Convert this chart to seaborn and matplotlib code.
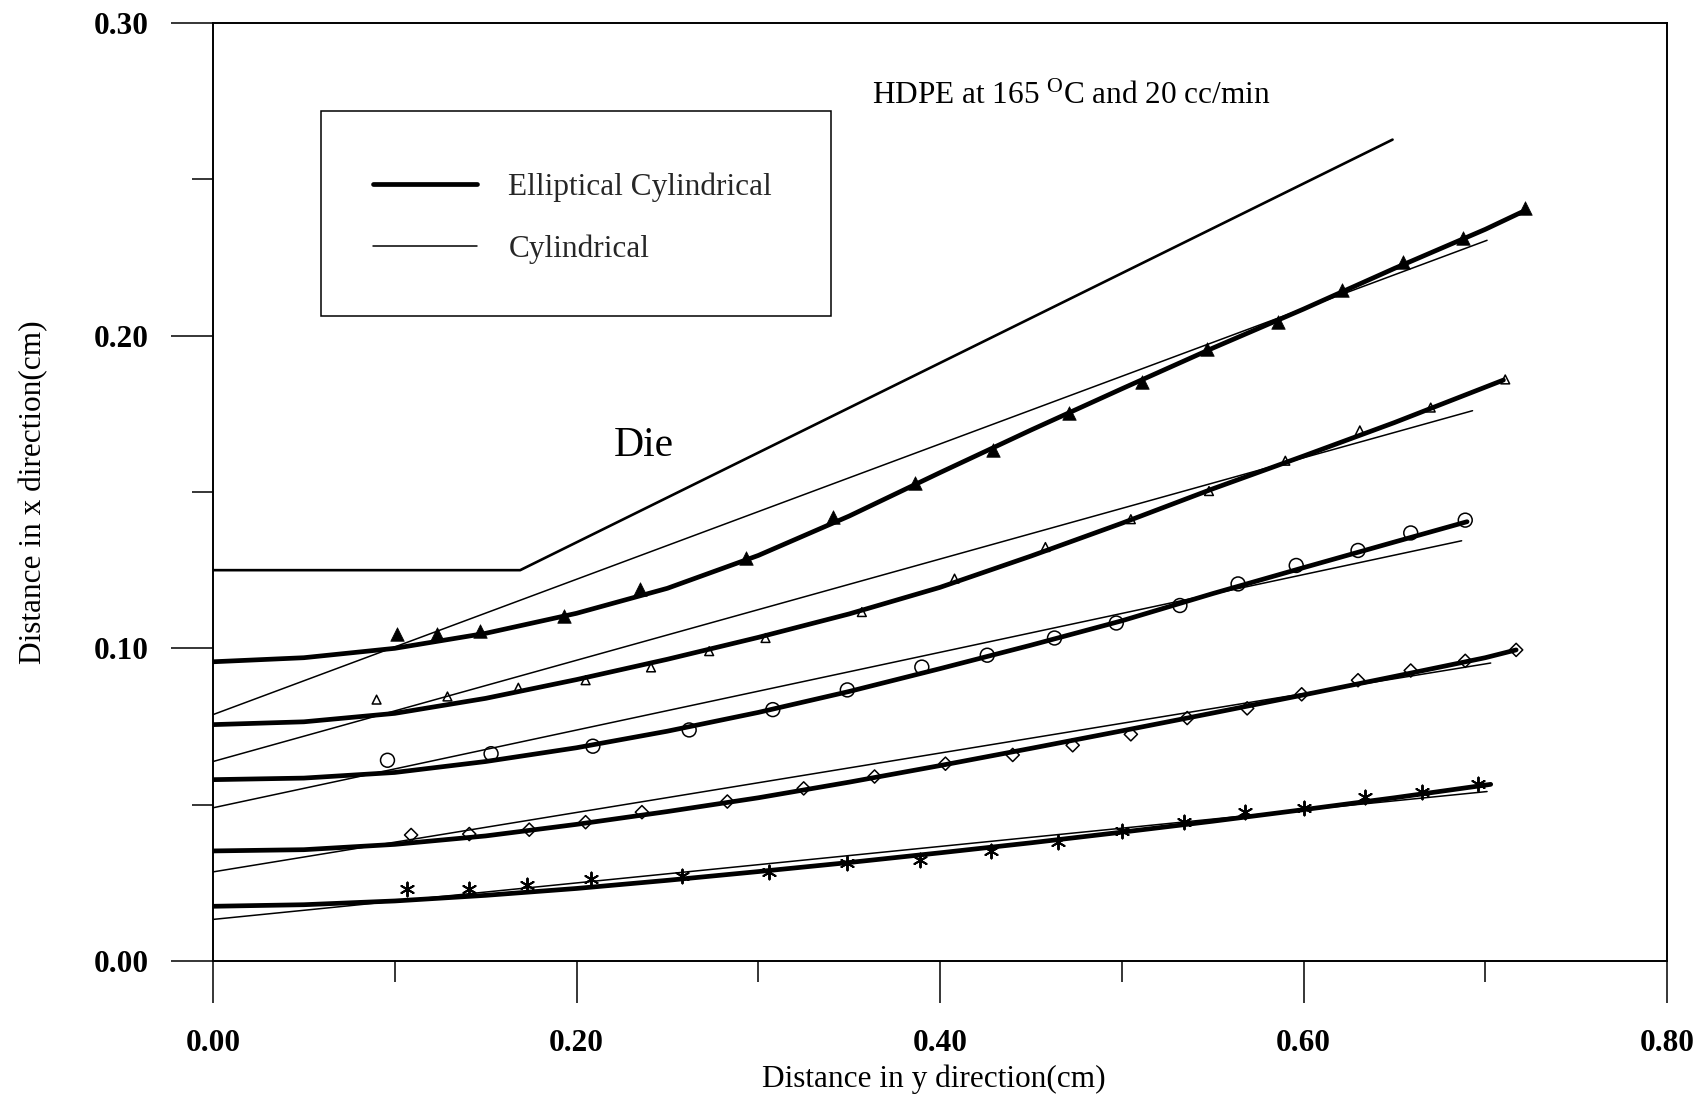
import matplotlib
matplotlib.use("Agg")
import matplotlib.pyplot as plt
from matplotlib.patches import Rectangle
from matplotlib.ticker import FormatStrFormatter
import seaborn as sns

# ---- measured swell profiles (distance in y, distance in x), cm ----
tri_filled_x = [0.101, 0.123, 0.147, 0.193, 0.235, 0.293, 0.341, 0.386, 0.429,
                0.471, 0.511, 0.547, 0.586, 0.621, 0.655, 0.688, 0.722]
tri_filled_y = [0.1047, 0.1047, 0.1057, 0.1102, 0.1189, 0.1289, 0.1420, 0.1528,
                0.1635, 0.1753, 0.1853, 0.1957, 0.2043, 0.2147, 0.2237, 0.2313, 0.2407]

tri_open_x = [0.090, 0.129, 0.168, 0.205, 0.241, 0.273, 0.304, 0.357, 0.408,
              0.458, 0.505, 0.548, 0.590, 0.631, 0.670, 0.711]
tri_open_y = [0.0836, 0.0846, 0.0874, 0.0898, 0.0939, 0.0991, 0.1033, 0.1116,
              0.1223, 0.1324, 0.1413, 0.1503, 0.1600, 0.1697, 0.1770, 0.1860]

circle_x = [0.096, 0.153, 0.209, 0.262, 0.308, 0.349, 0.390, 0.426, 0.463,
            0.497, 0.532, 0.564, 0.596, 0.630, 0.659, 0.689]
circle_y = [0.0642, 0.0663, 0.0687, 0.0739, 0.0804, 0.0867, 0.0940, 0.0978,
            0.1033, 0.1081, 0.1137, 0.1206, 0.1265, 0.1313, 0.1369, 0.1410]

diamond_x = [0.109, 0.141, 0.174, 0.205, 0.236, 0.283, 0.325, 0.364, 0.403, 0.440,
             0.473, 0.505, 0.536, 0.569, 0.599, 0.630, 0.659, 0.689, 0.717]
diamond_y = [0.0403, 0.0406, 0.0420, 0.0444, 0.0476, 0.0510, 0.0552, 0.0590, 0.0631,
             0.0659, 0.0690, 0.0725, 0.0777, 0.0808, 0.0853, 0.0898, 0.0929, 0.0960, 0.0995]

star_x = [0.107, 0.141, 0.173, 0.208, 0.258, 0.306, 0.349, 0.389, 0.428,
          0.465, 0.500, 0.534, 0.568, 0.600, 0.634, 0.665, 0.696]
star_y = [0.0230, 0.0230, 0.0244, 0.0261, 0.0272, 0.0285, 0.0313, 0.0324, 0.0351,
          0.0379, 0.0417, 0.0445, 0.0476, 0.0490, 0.0524, 0.0542, 0.0566]

# ---- elliptical cylindrical model predictions ----
ell1_x = [0, 0.05, 0.10, 0.15, 0.20, 0.25, 0.30, 0.35, 0.40, 0.45, 0.50, 0.55, 0.60, 0.65, 0.70, 0.72]
ell1_y = [0.0957, 0.0970, 0.1000, 0.1048, 0.1112, 0.1192, 0.1297, 0.1423, 0.1562,
          0.1698, 0.1830, 0.1960, 0.2085, 0.2215, 0.2340, 0.2395]
ell2_x = [0, 0.05, 0.10, 0.15, 0.20, 0.25, 0.30, 0.35, 0.40, 0.45, 0.50, 0.55, 0.60, 0.65, 0.71]
ell2_y = [0.0756, 0.0765, 0.0792, 0.0840, 0.0900, 0.0965, 0.1035, 0.1110, 0.1195,
          0.1295, 0.1400, 0.1510, 0.1615, 0.1722, 0.1858]
ell3_x = [0, 0.05, 0.10, 0.15, 0.20, 0.25, 0.30, 0.35, 0.40, 0.45, 0.50, 0.55, 0.60, 0.65, 0.69]
ell3_y = [0.0580, 0.0585, 0.0603, 0.0638, 0.0682, 0.0735, 0.0795, 0.0862, 0.0935,
          0.1010, 0.1088, 0.1175, 0.1258, 0.1340, 0.1405]
ell4_x = [0, 0.05, 0.10, 0.15, 0.20, 0.25, 0.30, 0.35, 0.40, 0.45, 0.50, 0.55, 0.60, 0.65, 0.70, 0.717]
ell4_y = [0.0352, 0.0356, 0.0373, 0.0400, 0.0437, 0.0478, 0.0522, 0.0572, 0.0625,
          0.0680, 0.0736, 0.0793, 0.0851, 0.0910, 0.0970, 0.0995]
ell5_x = [0, 0.05, 0.10, 0.15, 0.20, 0.25, 0.30, 0.35, 0.40, 0.45, 0.50, 0.55, 0.60, 0.65, 0.703]
ell5_y = [0.0175, 0.0180, 0.0192, 0.0210, 0.0232, 0.0258, 0.0286, 0.0315, 0.0346,
          0.0378, 0.0412, 0.0447, 0.0484, 0.0522, 0.0565]

# ---- cylindrical model predictions ----
cyl1_x, cyl1_y = [0, 0.701], [0.0788, 0.2305]
cyl2_x, cyl2_y = [0, 0.693], [0.0638, 0.1760]
cyl3_x, cyl3_y = [0, 0.687], [0.0490, 0.1344]
cyl4_x, cyl4_y = [0, 0.703], [0.0285, 0.0953]
cyl5_x, cyl5_y = [0, 0.701], [0.0133, 0.0542]

# ---- die wall ----
die_x = [0.0, 0.169, 0.649]
die_y = [0.125, 0.125, 0.2627]

x_major = [0.0, 0.2, 0.4, 0.6, 0.8]
x_minor = [0.1, 0.3, 0.5, 0.7]
y_major = [0.0, 0.1, 0.2, 0.3]
y_minor = [0.05, 0.15, 0.25]

sns.set_theme(style="ticks")
plt.rcParams["font.family"] = ["Liberation Serif", "DejaVu Serif"]
plt.rcParams["mathtext.fontset"] = "custom"
plt.rcParams["mathtext.rm"] = "Liberation Serif"
plt.rcParams["mathtext.it"] = "Liberation Serif:italic"
plt.rcParams["mathtext.bf"] = "Liberation Serif:bold"

W, H = 1696, 1097
fig = plt.figure(figsize=(W / 100, H / 100), dpi=100)
fig.patch.set_facecolor("white")
ax = fig.add_axes([213 / W, 1 - 961 / H, 1454 / W, 938 / H])
ax.set_facecolor("white")

FS = 22.5
THICK, THIN = 3.4, 1.1

line_kw = dict(ax=ax, color="black", sort=False, estimator=None, legend=False)
sns.lineplot(x=die_x, y=die_y, lw=1.9, **line_kw)

for xs, ys in [(ell1_x, ell1_y), (ell2_x, ell2_y), (ell3_x, ell3_y),
               (ell4_x, ell4_y), (ell5_x, ell5_y)]:
    sns.lineplot(x=xs, y=ys, lw=THICK, solid_capstyle="round",
                 solid_joinstyle="round", **line_kw)
ell_handle = ax.lines[-1]

for xs, ys in [(cyl1_x, cyl1_y), (cyl2_x, cyl2_y), (cyl3_x, cyl3_y),
               (cyl4_x, cyl4_y), (cyl5_x, cyl5_y)]:
    sns.lineplot(x=xs, y=ys, lw=THIN, **line_kw)
cyl_handle = ax.lines[-1]

sc_kw = dict(ax=ax, legend=False, zorder=5)
sns.scatterplot(x=tri_filled_x, y=tri_filled_y, marker="^", s=95,
                color="black", edgecolor="black", linewidth=0.5, **sc_kw)
sns.scatterplot(x=tri_open_x, y=tri_open_y, marker="^", s=40,
                facecolor="none", edgecolor="black", linewidth=1.1, **sc_kw)
sns.scatterplot(x=circle_x, y=circle_y, marker="o", s=100,
                facecolor="none", edgecolor="black", linewidth=1.1, **sc_kw)
sns.scatterplot(x=diamond_x, y=diamond_y, marker="D", s=45,
                facecolor="none", edgecolor="black", linewidth=1.1, **sc_kw)
sns.scatterplot(x=star_x, y=star_y, marker=(6, 2, 0), s=100,
                color="black", linewidth=1.4, **sc_kw)

# axes frame and ticks
ax.set_xlim(0, 0.8)
ax.set_ylim(0, 0.30)
ax.set_xticks(x_major)
ax.set_xticks(x_minor, minor=True)
ax.set_yticks(y_major)
ax.set_yticks(y_minor, minor=True)
ax.xaxis.set_major_formatter(FormatStrFormatter("%.2f"))
ax.yaxis.set_major_formatter(FormatStrFormatter("%.2f"))
for sp in ax.spines.values():
    sp.set_visible(True)
    sp.set_color("black")
    sp.set_linewidth(1.4)
ax.tick_params(which="major", direction="out", length=30, width=1.1,
               color="black", labelsize=FS, labelcolor="black")
ax.tick_params(axis="x", which="major", pad=19)
ax.tick_params(axis="y", which="major", pad=16)
ax.tick_params(which="minor", direction="out", length=15, width=1.1, color="black")
ax.tick_params(which="both", top=False, right=False)
for lab in ax.get_xticklabels() + ax.get_yticklabels():
    lab.set_fontweight("bold")

ax.set_xlabel("Distance in y direction(cm)", fontsize=FS, color="black")
ax.set_ylabel("Distance in x direction(cm)", fontsize=FS, color="black")
ax.xaxis.set_label_coords(0.496, -0.110)
ax.yaxis.set_label_coords(-0.113, 0.5)

# annotations
ax.text(0.3626, 0.2766, r"HDPE at 165 $^{\mathrm{O}}$C and 20 cc/min",
        fontsize=FS, ha="left", va="center", color="black")
ax.text(0.2369, 0.1649, "Die", fontsize=30, ha="center", va="center", color="black")

# legend with an outer box
ax.add_patch(Rectangle((0.0743, 0.6876), 0.425 - 0.0743, 0.9062 - 0.6876,
                       transform=ax.transAxes, fill=False, lw=1.1, ec="black", zorder=6))
ax.legend([ell_handle, cyl_handle], ["Elliptical Cylindrical", "Cylindrical"],
          loc="center left", bbox_to_anchor=(0.110, 0.792), frameon=False,
          borderpad=0, borderaxespad=0, handlelength=3.33, handletextpad=1.0,
          labelspacing=1.04, fontsize=FS)

fig.savefig("out.png", dpi=100, facecolor="white")
